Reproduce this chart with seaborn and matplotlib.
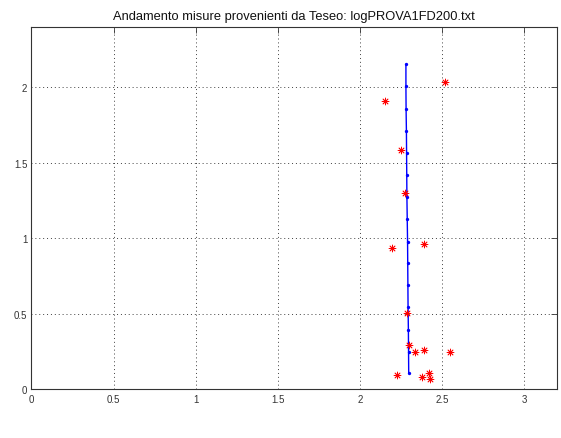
import numpy as np
import pandas as pd
import matplotlib
matplotlib.use("Agg")
import matplotlib.pyplot as plt
import seaborn as sns

# Reference track (blue) and raw measurements (red)
track_x = [2.280, 2.280, 2.281, 2.283, 2.284, 2.285, 2.286, 2.288,
           2.290, 2.291, 2.292, 2.293, 2.295, 2.296, 2.297]
track_y = [2.154, 2.007, 1.856, 1.711, 1.568, 1.422, 1.276, 1.126,
           0.980, 0.836, 0.691, 0.545, 0.395, 0.250, 0.106]

meas_x = [2.519, 2.155, 2.248, 2.277, 2.390, 2.196, 2.289, 2.297,
          2.337, 2.390, 2.546, 2.228, 2.378, 2.418, 2.426]
meas_y = [2.038, 1.912, 1.589, 1.303, 0.965, 0.940, 0.505, 0.293,
          0.245, 0.263, 0.245, 0.097, 0.086, 0.106, 0.071]

x_ticks = [0, 0.5, 1, 1.5, 2, 2.5, 3]
x_tick_labels = ["0", "0.5", "1", "1.5", "2", "2.5", "3"]
y_ticks = [0, 0.5, 1, 1.5, 2]
y_tick_labels = ["0", "0.5", "1", "1.5", "2"]

title = "Andamento misure provenienti da Teseo: logPROVA1FD200.txt"

sns.set_style("white")
plt.rcParams["font.family"] = ["Liberation Sans", "DejaVu Sans"]

track = pd.DataFrame({"x": track_x, "y": track_y})
meas = pd.DataFrame({"x": meas_x, "y": meas_y})

fig = plt.figure(figsize=(5.61, 4.39), dpi=100)
ax = fig.add_axes([0.0561, 0.1105, 0.9368, 0.8255])

sns.lineplot(data=track, x="x", y="y", sort=False, estimator=None,
             color="#0000ff", linewidth=1.0, marker="o", markersize=2.4,
             markeredgewidth=0, ax=ax, zorder=3)
# eight-spoke asterisk markers for the raw readings
sns.scatterplot(data=meas, x="x", y="y", color="#ff0000", marker=(8, 2, 0),
                s=24, linewidth=0.6, edgecolor="#ff2020", ax=ax, zorder=4)

ax.set_xlim(0, 3.2)
ax.set_ylim(0, 2.4)
ax.set_xticks(x_ticks)
ax.set_xticklabels(x_tick_labels)
ax.set_yticks(y_ticks)
ax.set_yticklabels(y_tick_labels)
ax.set_xlabel("")
ax.set_ylabel("")

ax.grid(True, linestyle=(0, (1, 3)), color="#404040", linewidth=0.7)
ax.tick_params(direction="in", length=4, width=0.6, labelsize=7,
               colors="#333333", top=True, right=True, pad=3)
for side in ax.spines.values():
    side.set_visible(True)
    side.set_color("#333333")
    side.set_linewidth(0.8)

ax.set_title(title, fontsize=9.3, pad=6, color="#111111")

fig.savefig("out.png", dpi=100, facecolor="white")
